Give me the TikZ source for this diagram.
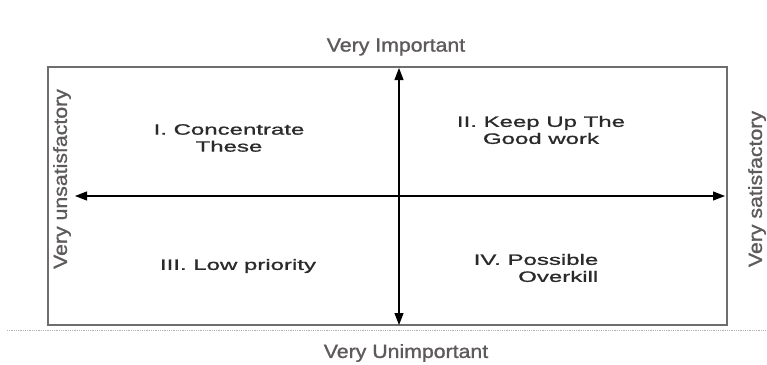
\documentclass[tikz,border=0pt]{standalone}
\usepackage{fontspec}
\setmainfont{Liberation Sans}
\newfontfamily\axisfont[FakeStretch=1.12,FakeBold=1.2]{Liberation Sans}
\newfontfamily\quadfont[FakeStretch=1.6,FakeBold=1.1]{Liberation Sans}
\usetikzlibrary{arrows.meta}
\definecolor{boxgray}{HTML}{6E6E6E}
\definecolor{axisgray}{HTML}{5E5A5C}
\definecolor{quadtext}{HTML}{2A2A2A}
\tikzset{
  quad/.style={font=\quadfont\fontsize{15}{17}\selectfont, text=quadtext, align=center, inner sep=0pt},
  axislabel/.style={font=\axisfont\fontsize{19}{20}\selectfont, text=axisgray, inner sep=0pt},
  axisarrow/.style={line width=1.1pt, -{Triangle[length=12pt,width=9pt]}, black},
}
\begin{document}
\begin{tikzpicture}[x=1pt,y=-1pt]
\useasboundingbox (0,0) rectangle (767,364);
\clip (0,0) rectangle (767,364);
\fill[white] (0,0) rectangle (767,364);
% baseline dotted line
\draw[gray!60, line width=0.8pt, densely dotted] (7,330) -- (767,330);
% frame
\node[draw=boxgray, line width=1.6pt, minimum width=679pt, minimum height=258pt, inner sep=0pt] (frame) at (387.5,196) {};
% axes
\coordinate (top) at (399,68);
\coordinate (bot) at (399,325);
\coordinate (left) at (75,196);
\coordinate (right) at (725,196);
\coordinate (center) at (399,196);
\draw[axisarrow] (center) -- (top);
\draw[axisarrow] (center) -- (bot);
\draw[axisarrow] (center) -- (left);
\draw[axisarrow] (center) -- (right);
% axis labels
\node[axislabel] (vi) at (396,47) {Very Important};
\node[axislabel] (vu) at (406,353) {Very Unimportant};
\node[axislabel, rotate=90] (vus) at (62,179) {Very unsatisfactory};
\node[axislabel, rotate=90] (vs) at (757,189) {Very satisfactory};
% quadrants
\node[quad] (q1) at (229,138) {I. Concentrate\\These};
\node[quad] (q2) at (541,130) {II. Keep Up The\\Good work};
\node[quad] (q3) at (238,266) {III. Low priority};
\node[quad, align=right] (q4) at (536,268) {IV. Possible\\Overkill};
\end{tikzpicture}
\end{document}
